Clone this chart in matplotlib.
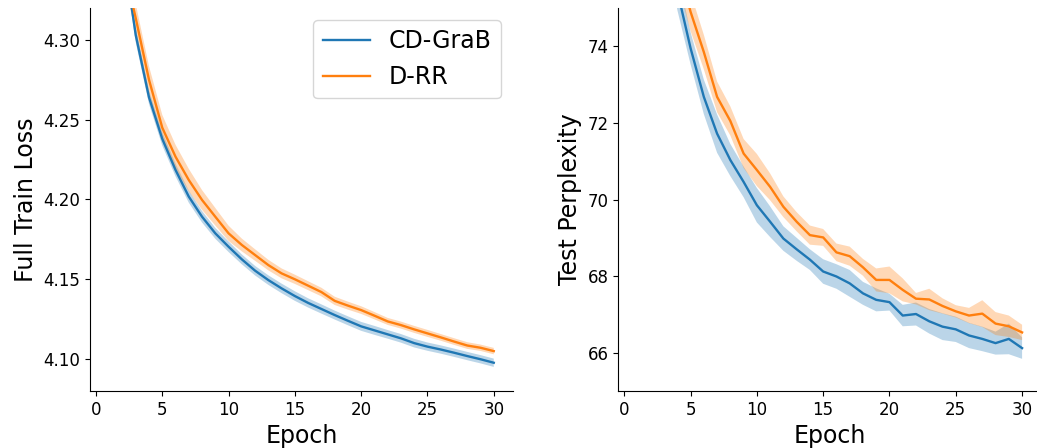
import numpy as np
import matplotlib
matplotlib.use("Agg")
import matplotlib.pyplot as plt

epochs = list(range(1, 31))

# Left: full train loss
loss_cdgrab = [4.500, 4.360, 4.303, 4.264, 4.2380, 4.2185, 4.2018, 4.1892, 4.1788, 4.1704,
               4.1625, 4.1554, 4.1495, 4.1443, 4.1395, 4.1352, 4.1314, 4.1276, 4.1240, 4.1205,
               4.1180, 4.1155, 4.1130, 4.1100, 4.1078, 4.1060, 4.1040, 4.1019, 4.0999, 4.0977]
loss_cdgrab_std = [0.010, 0.006, 0.0045, 0.0042, 0.0042, 0.0040, 0.0038, 0.0036, 0.0034, 0.0033,
                   0.0031, 0.0030, 0.0030, 0.0030, 0.0030, 0.0029, 0.0029, 0.0028, 0.0028, 0.0028,
                   0.0028, 0.0027, 0.0027, 0.0027, 0.0026, 0.0026, 0.0026, 0.0026, 0.0026, 0.0026]
loss_drr = [4.520, 4.350, 4.3136, 4.275, 4.2450, 4.2268, 4.2122, 4.1997, 4.1892, 4.1788,
            4.1715, 4.1652, 4.1589, 4.1537, 4.1500, 4.1460, 4.1420, 4.1365, 4.1335, 4.1307,
            4.1272, 4.1236, 4.1213, 4.1186, 4.1161, 4.1136, 4.1110, 4.1085, 4.1071, 4.1050]
loss_drr_std = [0.012, 0.010, 0.009, 0.0085, 0.008, 0.0075, 0.007, 0.0062, 0.0055, 0.0048,
                0.0040, 0.0036, 0.0033, 0.0031, 0.0029, 0.0028, 0.0027, 0.0026, 0.0025, 0.0024,
                0.0023, 0.0022, 0.0022, 0.0022, 0.0022, 0.0021, 0.0021, 0.0021, 0.0020, 0.0020]

# Right: test perplexity
ppl_cdgrab = [90.0, 81.0, 77.5, 75.45, 73.95, 72.68, 71.72, 71.03, 70.46, 69.85,
              69.42, 68.98, 68.70, 68.43, 68.12, 67.99, 67.81, 67.55, 67.38, 67.32,
              66.97, 67.01, 66.82, 66.68, 66.61, 66.45, 66.36, 66.25, 66.36, 66.12]
ppl_cdgrab_std = [1.0, 0.8, 0.6, 0.5, 0.42, 0.45, 0.50, 0.42, 0.40, 0.45,
                  0.40, 0.32, 0.30, 0.27, 0.32, 0.32, 0.35, 0.30, 0.30, 0.22,
                  0.28, 0.30, 0.32, 0.35, 0.33, 0.33, 0.32, 0.30, 0.40, 0.28]
ppl_drr = [92.0, 82.0, 78.5, 76.2, 74.90, 73.85, 72.68, 72.05, 71.20, 70.77,
           70.33, 69.81, 69.42, 69.07, 69.01, 68.62, 68.52, 68.23, 67.90, 67.90,
           67.64, 67.41, 67.39, 67.22, 67.08, 66.97, 67.02, 66.76, 66.69, 66.53]
ppl_drr_std = [1.0, 0.8, 0.6, 0.55, 0.50, 0.45, 0.40, 0.38, 0.38, 0.42,
               0.35, 0.27, 0.25, 0.25, 0.22, 0.23, 0.25, 0.22, 0.30, 0.35,
               0.30, 0.15, 0.28, 0.20, 0.16, 0.20, 0.35, 0.30, 0.28, 0.20]

labels = ["CD-GraB", "D-RR"]
colors = ["#1f77b4", "#ff7f0e"]

fig = plt.figure(figsize=(10.37, 4.48), dpi=100)
ax1 = fig.add_axes([90 / 1037, 57 / 448, 423 / 1037, 383 / 448])
ax2 = fig.add_axes([618.3 / 1037, 57 / 448, 423 / 1037, 383 / 448])

x = np.array(epochs)

def draw(ax, series, stds):
    for s, sd, lab, c in zip(series, stds, labels, colors):
        s = np.array(s); sd = np.array(sd)
        ax.plot(x, s, color=c, lw=1.7, label=lab)
        ax.fill_between(x, s - sd, s + sd, color=c, alpha=0.3, lw=0)
    ax.set_xlim(-0.45, 31.45)
    ax.set_xticks([0, 5, 10, 15, 20, 25, 30])
    ax.spines["top"].set_visible(False)
    ax.spines["right"].set_visible(False)
    ax.tick_params(labelsize=12)
    ax.set_xlabel("Epoch", fontsize=17)

draw(ax1, [loss_cdgrab, loss_drr], [loss_cdgrab_std, loss_drr_std])
ax1.set_ylim(4.08, 4.32)
ax1.set_yticks([4.10, 4.15, 4.20, 4.25, 4.30])
ax1.set_yticklabels(["4.10", "4.15", "4.20", "4.25", "4.30"])
ax1.set_ylabel("Full Train Loss", fontsize=17)
ax1.legend(loc="upper right", fontsize=17)

draw(ax2, [ppl_cdgrab, ppl_drr], [ppl_cdgrab_std, ppl_drr_std])
ax2.set_ylim(65, 75)
ax2.set_yticks([66, 68, 70, 72, 74])
ax2.set_ylabel("Test Perplexity", fontsize=17)

fig.savefig("out.png", dpi=100)
